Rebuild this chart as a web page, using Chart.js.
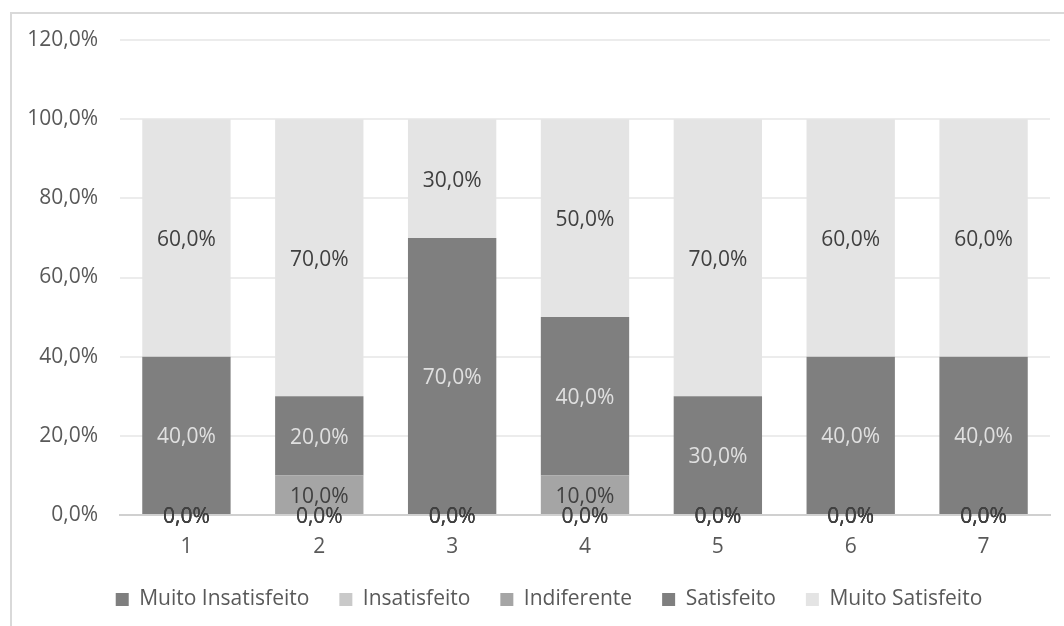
<!DOCTYPE html>
<html>
<head>
<meta charset="utf-8">
<script src="https://cdn.jsdelivr.net/npm/chart.js@4/dist/chart.umd.min.js"></script>
<style>
  html, body { margin: 0; padding: 0; background: #fff; overflow: hidden; }
  #frame { position: absolute; left: 10px; top: 12px; width: 1100px; height: 700px;
           border-left: 2px solid #d9d9d9; border-top: 2px solid #d9d9d9; }
  #wrap { position: absolute; left: 0; top: 0; width: 1064px; height: 626px; }
</style>
</head>
<body>
<div id="frame"></div>
<div id="wrap"><canvas id="chart"></canvas></div>
<script>
// === DATA ===
const categories = ['1', '2', '3', '4', '5', '6', '7'];
const seriesNames = ['Muito Insatisfeito', 'Insatisfeito', 'Indiferente', 'Satisfeito', 'Muito Satisfeito'];
const muitoInsatisfeito = [0, 0, 0, 0, 0, 0, 0];
const insatisfeito = [0, 0, 0, 0, 0, 0, 0];
const indiferente = [0, 0.1, 0, 0.1, 0, 0, 0];
const satisfeito = [0.4, 0.2, 0.7, 0.4, 0.3, 0.4, 0.4];
const muitoSatisfeito = [0.6, 0.7, 0.3, 0.5, 0.7, 0.6, 0.6];
const yTicks = [0, 0.2, 0.4, 0.6, 0.8, 1.0, 1.2];

// === STYLE ===
const fills = ['#7f7f7f', '#c9c9c9', '#a5a5a5', '#7f7f7f', '#e4e4e4'];
const labelColors = ['#404040', '#404040', '#404040', '#e0e0e0', '#404040'];
const FONT = "'Open Sans', sans-serif";
const SIZE = 21;

const fmt = v => (v * 100).toFixed(1).replace('.', ',') + '%';

// draws the value in the middle of each segment
const segmentLabels = {
  id: 'segmentLabels',
  afterDatasetsDraw(chart) {
    const ctx = chart.ctx;
    ctx.save();
    ctx.font = SIZE + 'px ' + FONT;
    ctx.textAlign = 'center';
    ctx.textBaseline = 'middle';
    chart.data.datasets.forEach((ds, i) => {
      const meta = chart.getDatasetMeta(i);
      meta.data.forEach((bar, j) => {
        ctx.fillStyle = labelColors[i];
        ctx.fillText(fmt(ds.data[j]), bar.x, (bar.y + bar.base) / 2 + 2);
      });
    });
    ctx.restore();
  }
};

// legend sits centred under the plot, not the whole canvas
const legendShift = {
  id: 'legendShift',
  afterLayout(chart) {
    chart.legend.left += 24;
    chart.legend.right += 24;
  }
};

const datasets = [muitoInsatisfeito, insatisfeito, indiferente, satisfeito, muitoSatisfeito]
  .map((data, i) => ({
    label: seriesNames[i],
    data: data,
    backgroundColor: fills[i],
    borderWidth: 0,
    categoryPercentage: 1,
    barPercentage: 0.665
  }));

new Chart(document.getElementById('chart'), {
  type: 'bar',
  data: { labels: categories, datasets: datasets },
  plugins: [segmentLabels, legendShift],
  options: {
    responsive: true,
    maintainAspectRatio: false,
    animation: false,
    layout: { padding: { left: 0, right: 14, top: 40, bottom: 6 } },
    plugins: {
      tooltip: { enabled: false },
      legend: {
        position: 'bottom',
        labels: {
          font: { family: FONT, size: SIZE },
          color: '#595959',
          usePointStyle: true,
          pointStyle: 'rect',
          boxWidth: 13,
          boxHeight: 13,
          padding: 30
        }
      }
    },
    scales: {
      x: {
        stacked: true,
        grid: { display: false },
        border: { color: '#d0d0d0', width: 2 },
        ticks: { font: { family: FONT, size: SIZE }, color: '#595959', padding: 11 },
        afterFit: axis => { axis.height = 44; }
      },
      y: {
        stacked: true,
        min: 0,
        max: 1.2,
        afterBuildTicks: axis => { axis.ticks = yTicks.map(v => ({ value: v })); },
        afterFit: axis => { axis.width = 120; },
        grid: { color: '#ececec', lineWidth: 2, drawTicks: false },
        border: { display: false },
        ticks: {
          font: { family: FONT, size: SIZE },
          color: '#595959',
          padding: 22,
          callback: v => fmt(v)
        }
      }
    }
  }
});
</script>
</body>
</html>
